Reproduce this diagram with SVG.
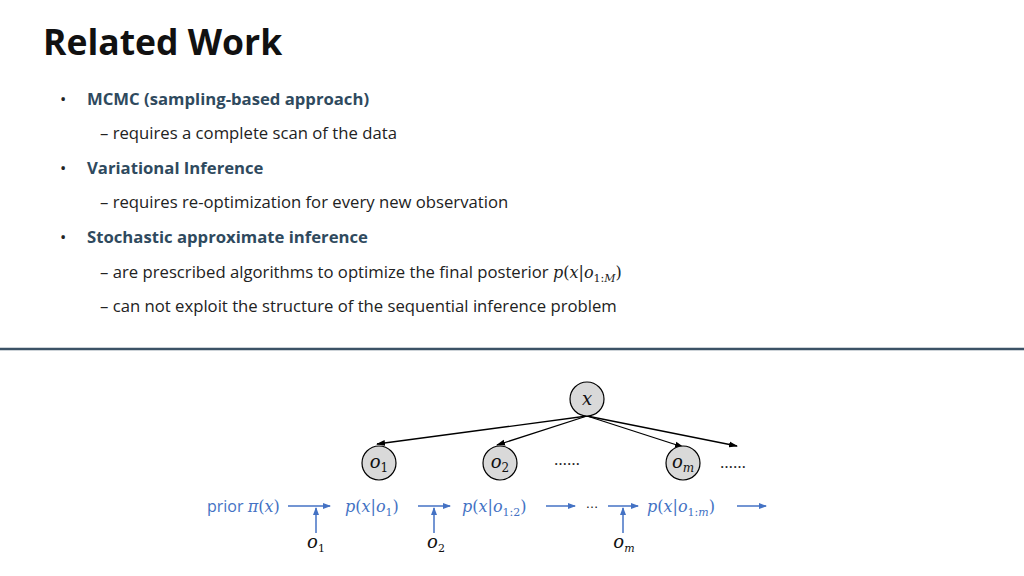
<svg xmlns="http://www.w3.org/2000/svg" width="1024" height="576" viewBox="0 0 1024 576">
<style>
.t{font-family:"Open Sans","Liberation Sans",sans-serif;font-size:16.7px;fill:#222}
.h{font-family:"Open Sans","Liberation Sans",sans-serif;font-size:16.7px;font-weight:bold;fill:#2F4A5E}
.m{font-family:"DejaVu Serif",serif;font-style:italic;font-size:18px;fill:#111}
.b{font-family:"DejaVu Serif",serif;font-style:italic;font-size:16px;fill:#4472C4}
.bl{stroke:#4472C4;stroke-width:1.5;fill:none;marker-end:url(#ab)}
.k{stroke:#000;stroke-width:1.3;fill:none;marker-end:url(#ak)}
circle{fill:#D9D9D9;stroke:#000;stroke-width:1.2}
</style>
<defs>
<marker id="ab" markerWidth="8" markerHeight="8" refX="7" refY="4" orient="auto" markerUnits="userSpaceOnUse"><path d="M0,1 L8,4 L0,7z" fill="#4472C4"/></marker>
<marker id="ak" markerWidth="9" markerHeight="8" refX="8" refY="4" orient="auto" markerUnits="userSpaceOnUse"><path d="M0,1 L9,4 L0,7z" fill="#000"/></marker>
</defs>
<rect width="1024" height="576" fill="#fff"/>
<text x="43" y="55" font-family="'Open Sans','Liberation Sans',sans-serif" font-size="35.5" font-weight="bold" fill="#111">Related Work</text>
<g>
<text class="t" x="60" y="105" fill="#2F4A5E">•</text><text class="h" x="87" y="105">MCMC (sampling-based approach)</text>
<text class="t" x="100" y="139">– requires a complete scan of the data</text>
<text class="t" x="60" y="174">•</text><text class="h" x="87" y="174">Variational Inference</text>
<text class="t" x="100" y="208">– requires re-optimization for every new observation</text>
<text class="t" x="60" y="243">•</text><text class="h" x="87" y="243">Stochastic approximate inference</text>
<text class="t" x="100" y="278">– are prescribed algorithms to optimize the final posterior <tspan font-family="DejaVu Serif,serif" font-style="italic" font-size="16">p</tspan><tspan font-family="DejaVu Serif,serif" font-size="16">(</tspan><tspan font-family="DejaVu Serif,serif" font-style="italic" font-size="16">x</tspan><tspan font-family="DejaVu Serif,serif" font-size="16">|</tspan><tspan font-family="DejaVu Serif,serif" font-style="italic" font-size="16">o</tspan><tspan font-family="DejaVu Serif,serif" font-size="11" dy="4">1:<tspan font-style="italic">M</tspan></tspan><tspan font-family="DejaVu Serif,serif" font-size="16" dy="-4">)</tspan></text>
<text class="t" x="100" y="312">– can not exploit the structure of the sequential inference problem</text>
</g>
<line x1="0" y1="349" x2="1024" y2="349" stroke="#3B5266" stroke-width="2.5"/>
<g id="connectors">
<line class="k" x1="587" y1="416" x2="377" y2="444"/>
<line class="k" x1="587" y1="416" x2="497" y2="445"/>
<line class="k" x1="587" y1="416" x2="683" y2="447"/>
<line class="k" x1="587" y1="416" x2="737" y2="446"/>
<line class="bl" x1="288" y1="506" x2="330" y2="506"/>
<line class="bl" x1="316" y1="533" x2="316" y2="508"/>
<line class="bl" x1="418" y1="506" x2="450" y2="506"/>
<line class="bl" x1="434" y1="533" x2="434" y2="508"/>
<line class="bl" x1="546" y1="506" x2="575" y2="506"/>
<line class="bl" x1="608" y1="506" x2="638" y2="506"/>
<line class="bl" x1="623" y1="533" x2="623" y2="508"/>
<line class="bl" x1="737" y1="506" x2="766" y2="506"/>
</g>
<g id="x"><circle cx="587" cy="399" r="17"/><text class="m" x="587" y="405" text-anchor="middle">x</text></g>
<g id="o1"><circle cx="379" cy="463" r="17"/><text class="m" x="379" y="468" text-anchor="middle">o<tspan font-style="normal" font-size="12" dy="4">1</tspan></text></g>
<g id="o2"><circle cx="500" cy="463" r="17"/><text class="m" x="500" y="468" text-anchor="middle">o<tspan font-style="normal" font-size="12" dy="4">2</tspan></text></g>
<g id="om"><circle cx="683" cy="463" r="17"/><text class="m" x="683" y="468" text-anchor="middle">o<tspan font-size="12" dy="4">m</tspan></text></g>
<text class="t" x="567" y="465" text-anchor="middle" font-size="13">……</text>
<text class="t" x="733" y="468" text-anchor="middle" font-size="13">……</text>
<g id="chain">
<text x="207" y="512" font-family="'Open Sans','Liberation Sans',sans-serif" font-size="16" fill="#4472C4">prior <tspan class="b">π</tspan><tspan font-family="DejaVu Serif,serif" font-size="16">(</tspan><tspan class="b">x</tspan><tspan font-family="DejaVu Serif,serif" font-size="16">)</tspan></text>
<text class="b" x="345" y="512">p<tspan font-style="normal">(</tspan>x<tspan font-style="normal">|</tspan>o<tspan font-style="normal" font-size="11" dy="4">1</tspan><tspan font-style="normal" dy="-4">)</tspan></text>
<text class="b" x="462" y="512">p<tspan font-style="normal">(</tspan>x<tspan font-style="normal">|</tspan>o<tspan font-style="normal" font-size="11" dy="4">1:2</tspan><tspan font-style="normal" dy="-4">)</tspan></text>
<text x="592" y="508" text-anchor="middle" font-family="Liberation Sans,sans-serif" font-size="13" fill="#111">…</text>
<text class="b" x="647" y="512">p<tspan font-style="normal">(</tspan>x<tspan font-style="normal">|</tspan>o<tspan font-style="normal" font-size="11" dy="4">1:<tspan font-style="italic">m</tspan></tspan><tspan font-style="normal" dy="-4">)</tspan></text>
<text class="m" x="316" y="548" text-anchor="middle" font-size="17">o<tspan font-style="normal" font-size="11" dy="4">1</tspan></text>
<text class="m" x="436" y="548" text-anchor="middle">o<tspan font-style="normal" font-size="11" dy="4">2</tspan></text>
<text class="m" x="624" y="548" text-anchor="middle">o<tspan font-size="11" dy="4">m</tspan></text>
</g>
</svg>
